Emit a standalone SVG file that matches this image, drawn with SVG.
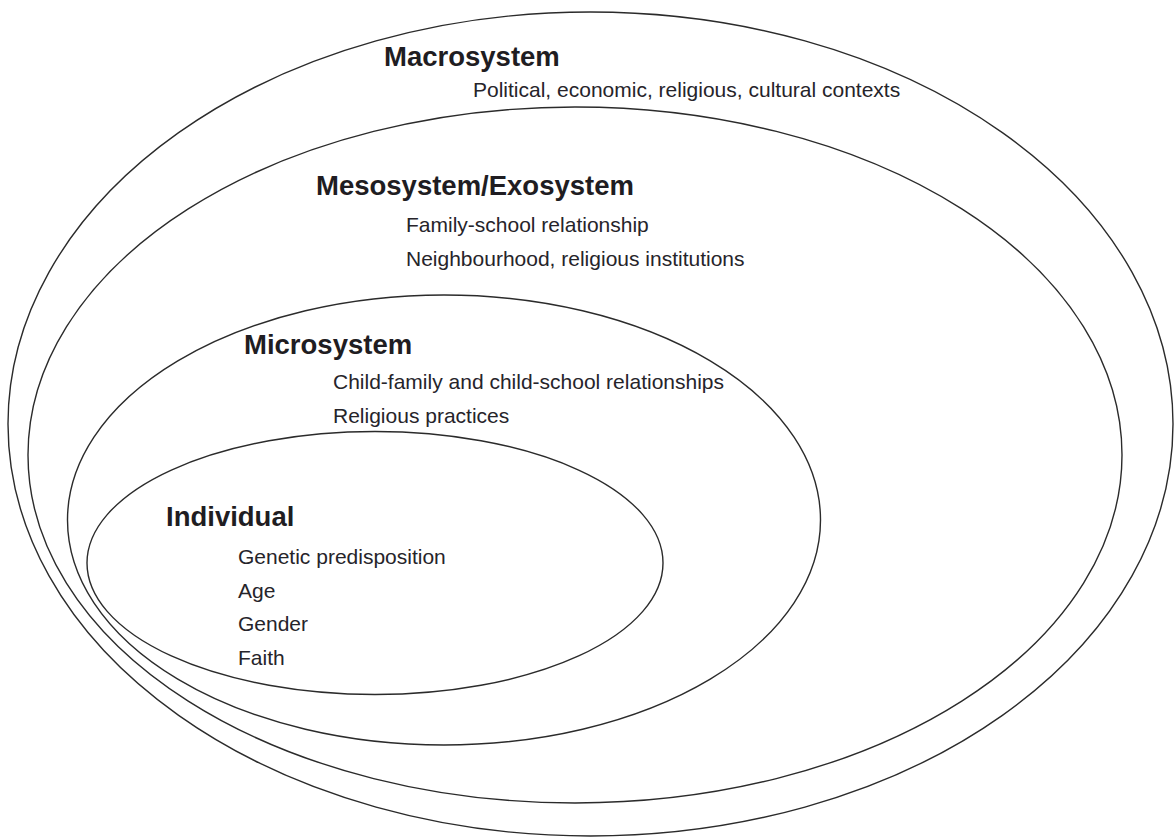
<svg xmlns="http://www.w3.org/2000/svg" width="1176" height="838" viewBox="0 0 1176 838">
<style>
.ring{fill:none;stroke:#2b2b2b;stroke-width:1.4}
.h{font-family:"Liberation Sans",Arial,sans-serif;font-weight:bold;font-size:27.5px;fill:#1f1d22}
.t{font-family:"Liberation Sans",Arial,sans-serif;font-size:21px;fill:#26242a}
</style>
<rect width="1176" height="838" fill="#ffffff"/>
<g id="macrosystem">
<ellipse class="ring" cx="590.5" cy="424" rx="582.5" ry="412"/>
<text class="h" x="384" y="66">Macrosystem</text>
<text class="t" x="473" y="97">Political, economic, religious, cultural contexts</text>
</g>
<g id="mesosystem">
<ellipse class="ring" cx="575" cy="455" rx="547" ry="348"/>
<text class="h" x="316" y="195">Mesosystem/Exosystem</text>
<text class="t" x="406" y="232">Family-school relationship</text>
<text class="t" x="406" y="266">Neighbourhood, religious institutions</text>
</g>
<g id="microsystem">
<ellipse class="ring" cx="444" cy="520" rx="376.5" ry="225"/>
<text class="h" x="244" y="354">Microsystem</text>
<text class="t" x="333" y="389">Child-family and child-school relationships</text>
<text class="t" x="333" y="423">Religious practices</text>
</g>
<g id="individual">
<ellipse class="ring" cx="375" cy="563" rx="288" ry="131.5"/>
<text class="h" x="166" y="526">Individual</text>
<text class="t" x="238" y="564">Genetic predisposition</text>
<text class="t" x="238" y="598">Age</text>
<text class="t" x="238" y="631">Gender</text>
<text class="t" x="238" y="665">Faith</text>
</g>
</svg>
